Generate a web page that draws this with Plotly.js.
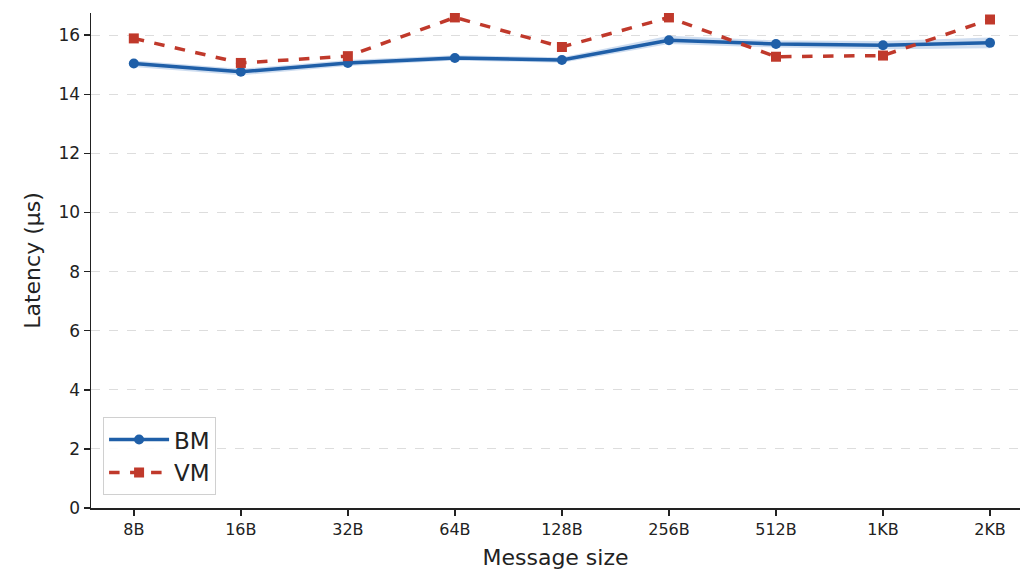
<!DOCTYPE html>
<html>
<head>
<meta charset="utf-8">
<script src="https://cdn.plot.ly/plotly-3.0.1.min.js"></script>
<style>html,body{margin:0;padding:0;background:#fff;}#chart{width:1020px;height:570px;}</style>
</head>
<body>
<div id="chart"></div>
<script>
const sizes = ["8B","16B","32B","64B","128B","256B","512B","1KB","2KB"];
const bmLatency = [15.04, 14.76, 15.06, 15.23, 15.16, 15.83, 15.70, 15.66, 15.74];
const bmLower   = [14.92, 14.64, 14.96, 15.14, 15.07, 15.70, 15.58, 15.52, 15.56];
const bmUpper   = [15.14, 14.86, 15.16, 15.32, 15.25, 15.98, 15.82, 15.80, 15.92];
const vmLatency = [15.89, 15.06, 15.29, 16.60, 15.60, 16.60, 15.27, 15.31, 16.53];

const idx = sizes.map((_, i) => i);
const font = "DejaVu Sans, sans-serif";

const traces = [
  {x: idx, y: bmLower, mode: "lines", line: {width: 0, color: "rgba(0,0,0,0)"}, showlegend: false, hoverinfo: "skip"},
  {x: idx, y: bmUpper, mode: "lines", line: {width: 0, color: "rgba(0,0,0,0)"}, fill: "tonexty", fillcolor: "rgba(60,120,195,0.25)", showlegend: false, hoverinfo: "skip"},
  {x: idx, y: bmLatency, name: "BM", mode: "lines+markers",
   line: {color: "#1f5fa8", width: 3.5}, marker: {symbol: "circle", size: 10, color: "#1f5fa8"}},
  {x: idx, y: vmLatency, name: "VM", mode: "lines+markers",
   line: {color: "#c0392b", width: 3.5, dash: "dash"}, marker: {symbol: "square", size: 10, color: "#c0392b"}}
];

const layout = {
  width: 1020, height: 570,
  margin: {l: 91, r: 0, t: 13, b: 62},
  paper_bgcolor: "#fff", plot_bgcolor: "#fff",
  font: {family: font, color: "#222", size: 17},
  showlegend: true,
  legend: {x: 0.013, y: 0.026, xanchor: "left", yanchor: "bottom", traceorder: "normal",
    bgcolor: "rgba(255,255,255,0.9)", bordercolor: "#d0d0d0", borderwidth: 1,
    font: {family: font, size: 23, color: "#222"}, itemwidth: 60},
  xaxis: {
    range: [-0.4, 8.28], tickmode: "array", tickvals: idx, ticktext: sizes,
    showgrid: false, zeroline: false, showline: true, linecolor: "#222", linewidth: 1.5,
    ticks: "outside", ticklen: 6, tickwidth: 1.5, tickcolor: "#222",
    tickfont: {family: font, size: 16, color: "#222"},
    title: {text: "Message size", font: {family: font, size: 22, color: "#222"}, standoff: 14}
  },
  yaxis: {
    range: [0, 16.75], tickmode: "array", tickvals: [0,2,4,6,8,10,12,14,16],
    showgrid: true, gridcolor: "#dddddd", griddash: "dash", gridwidth: 1,
    zeroline: false, showline: true, linecolor: "#222", linewidth: 1.5,
    ticks: "outside", ticklen: 6, tickwidth: 1.5, tickcolor: "#222",
    tickfont: {family: font, size: 17, color: "#222"},
    title: {text: "Latency (µs)", font: {family: font, size: 22, color: "#222"}, standoff: 12}
  }
};

Plotly.newPlot("chart", traces, layout, {displayModeBar: false, staticPlot: true});
</script>
</body>
</html>
